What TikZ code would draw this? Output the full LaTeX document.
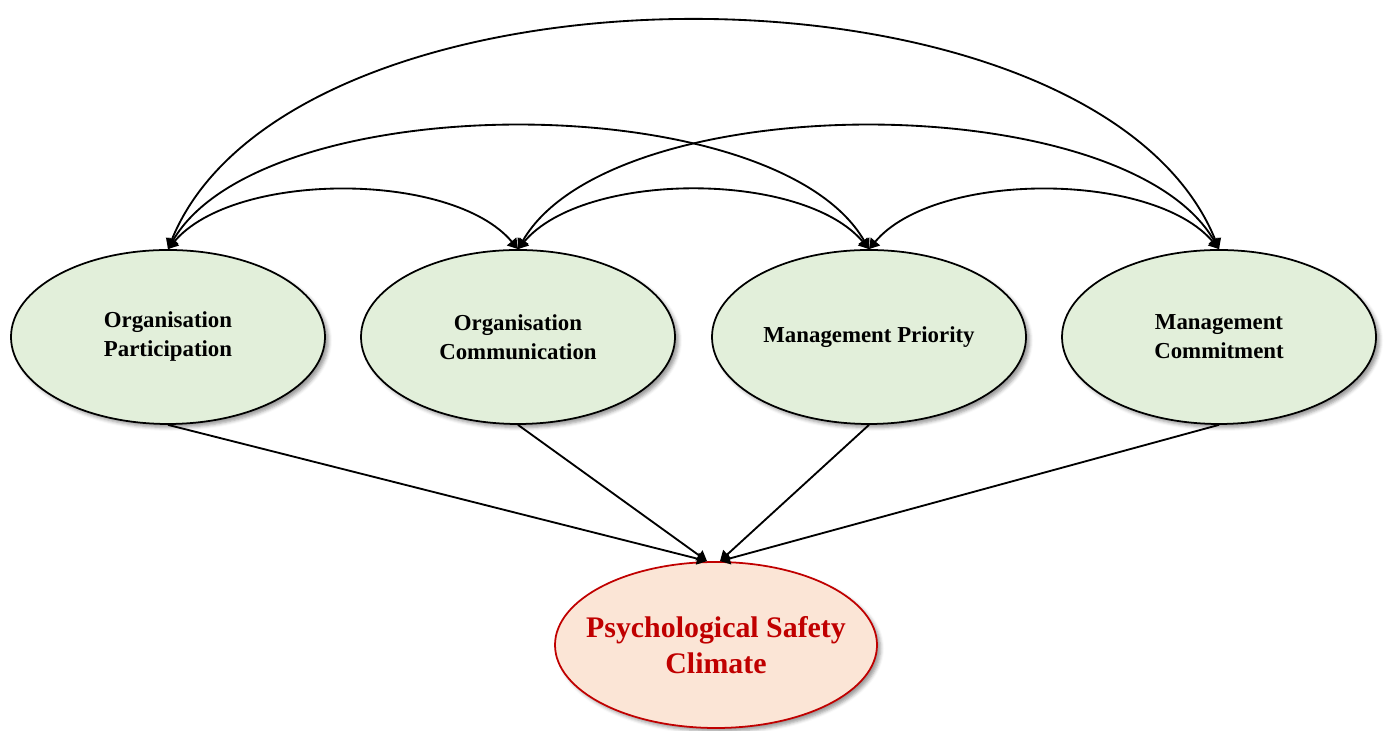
\documentclass[tikz,border=0pt]{standalone}
\usepackage{fontspec}
\setmainfont{Liberation Serif}
\usepackage{tikz}
\usetikzlibrary{arrows.meta, shapes.geometric, shadows.blur}
\definecolor{fgreen}{HTML}{E2EFDA}
\definecolor{fpeach}{HTML}{FBE5D6}
\definecolor{fred}{HTML}{C00000}

\begin{document}
\begin{tikzpicture}[x=1cm, y=1cm,
  factor/.style={ellipse, draw=black, line width=1pt, fill=fgreen,
    minimum width=6.28cm, minimum height=3.48cm, inner sep=0pt, align=center,
    font=\fontsize{13}{16.5}\selectfont\bfseries,
    blur shadow={shadow xshift=2pt, shadow yshift=-2pt, shadow blur radius=2pt, shadow opacity=40}},
  outcome/.style={ellipse, draw=fred, line width=1pt, fill=fpeach,
    minimum width=6.44cm, minimum height=3.32cm, inner xsep=-0.4cm, inner ysep=0pt, align=center,
    font=\fontsize{17}{20.5}\selectfont\bfseries, text=fred,
    blur shadow={shadow xshift=2pt, shadow yshift=-2pt, shadow blur radius=2pt, shadow opacity=40}},
  covar/.style={{Triangle[length=2mm,width=2.4mm]}-{Triangle[length=2mm,width=2.4mm]}, line width=1.05pt},
  effect/.style={-{Triangle[length=2mm,width=2.4mm]}, line width=1.05pt}]
\useasboundingbox (0,0) rectangle (27.72,14.62);

% the four climate factors
\node[factor] (orgpart) at (3.36,7.88) {Organisation\\Participation};
\node[factor] (orgcomm) at (10.36,7.88) {Organisation\\Communication};
\node[factor] (mgtprio) at (17.38,7.88) {Management Priority};
\node[factor] (mgtcomm) at (24.38,7.88) {Management\\Commitment};

% outcome
\node[outcome] (psc) at (14.32,1.72) {Psychological Safety\\Climate};

% correlations between factors
\draw[covar] (orgpart.north) to[out=50, in=130, looseness=0.75] (orgcomm.north);
\draw[covar] (orgcomm.north) to[out=50, in=130, looseness=0.75] (mgtprio.north);
\draw[covar] (mgtprio.north) to[out=50, in=130, looseness=0.75] (mgtcomm.north);
\draw[covar] (orgpart.north) to[out=60, in=120, looseness=0.69] (mgtprio.north);
\draw[covar] (orgcomm.north) to[out=60, in=120, looseness=0.69] (mgtcomm.north);
\draw[covar] (orgpart.north) to[out=68, in=112, looseness=0.8] (mgtcomm.north);

% paths into the outcome
\draw[effect] (orgpart.south) -- ([xshift=-0.18cm]psc.north);
\draw[effect] (orgcomm.south) -- ([xshift=-0.18cm]psc.north);
\draw[effect] (mgtprio.south) -- ([xshift=0.08cm]psc.north);
\draw[effect] (mgtcomm.south) -- ([xshift=0.08cm]psc.north);
\end{tikzpicture}
\end{document}
